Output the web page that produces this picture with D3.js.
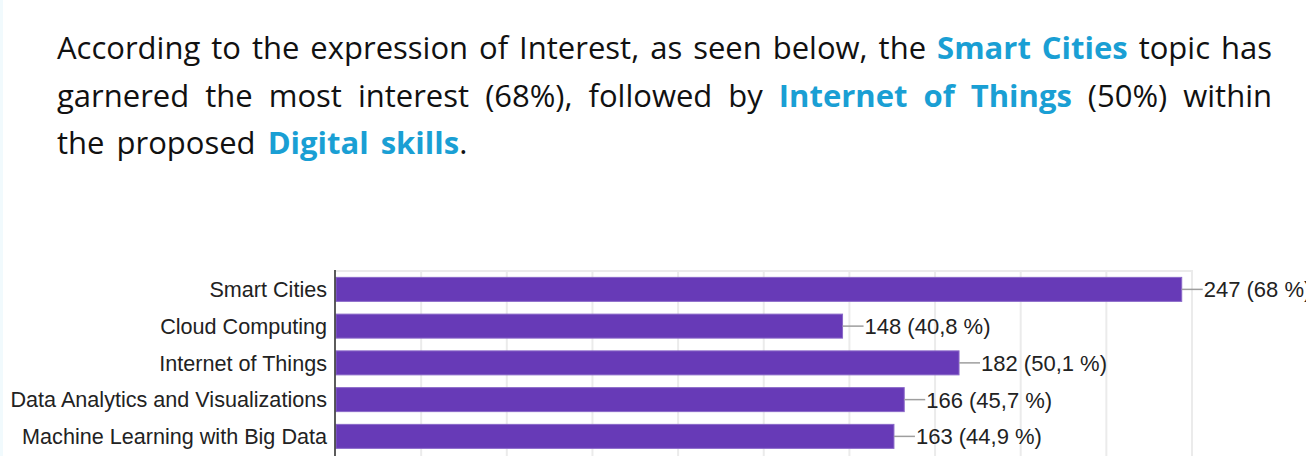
<!DOCTYPE html>
<html>

<head>
    <meta charset="utf-8">
    <style>
        html, body { margin: 0; padding: 0; background: #fff; }
        body { width: 1306px; height: 456px; overflow: hidden; position: relative; }
        #edge { position: absolute; left: 0; top: 0; width: 3px; height: 456px; background: #f1fafd; }
        #intro {
            position: absolute; left: 57px; top: 24px; width: 1215px;
            font-family: "Open Sans", sans-serif; font-size: 31px; line-height: 47.5px; color: #111;
        }
        #intro .line { white-space: nowrap; }
        #intro .just { text-align: justify; text-align-last: justify; white-space: normal; word-spacing: 0; }
        #intro .last { word-spacing: 4px; }
        #intro b { color: #1a9fd4; font-weight: 700; }
        #chart { position: absolute; left: 0; top: 0; }
    </style>
</head>

<body>
    <script src="https://d3js.org/d3.v7.min.js"></script>
    <div id="edge"></div>
    <div id="intro">
        <div class="line just">According to the expression of Interest, as seen below, the <b>Smart Cities</b> topic has</div>
        <div class="line just">garnered the most interest (68%), followed by <b>Internet of Things</b> (50%) within</div>
        <div class="line last">the proposed <b>Digital skills</b>.</div>
    </div>
    <svg id="chart"></svg>
    <script>
        const width = 1306
        const height = 456

        const categories = ["Smart Cities", "Cloud Computing", "Internet of Things", "Data Analytics and Visualizations", "Machine Learning with Big Data"]
        const counts = [247, 148, 182, 166, 163]
        const percents = [68, 40.8, 50.1, 45.7, 44.9]
        const gridTicks = [0, 25, 50, 75, 100, 125, 150, 175, 200, 225, 250]

        const svg = d3.select("#chart").attr("width", width).attr("height", height)

        const x = d3.scaleLinear().domain([0, 250]).range([335.5, 1192])
        const y = d3.scaleBand()
            .domain(categories)
            .range([271, 271 + 5 * 36.75])
            .paddingInner(0.347)
            .paddingOuter(0.1735)

        const bottom = 470

        // gridlines
        svg.append("g")
            .selectAll("line")
            .data(gridTicks.slice(1))
            .enter()
            .append("line")
            .attr("x1", d => x(d)).attr("x2", d => x(d))
            .attr("y1", 271).attr("y2", bottom)
            .attr("stroke", "#ebebeb").attr("stroke-width", 2)

        svg.append("line")
            .attr("x1", x(0)).attr("x2", x(250) + 1)
            .attr("y1", 271).attr("y2", 271)
            .attr("stroke", "#ebebeb").attr("stroke-width", 2)

        // bars
        svg.append("g")
            .selectAll("rect")
            .data(categories)
            .enter()
            .append("rect")
            .attr("x", x(0) + 0.5)
            .attr("y", d => y(d))
            .attr("width", (d, i) => x(counts[i]) - x(0) - 0.5)
            .attr("height", y.bandwidth())
            .attr("fill", "#673ab7")
            .attr("stroke", "#8a68c8")
            .attr("stroke-width", 1)

        // axis line
        svg.append("line")
            .attr("x1", 335).attr("x2", 335)
            .attr("y1", 270).attr("y2", bottom)
            .attr("stroke", "#333").attr("stroke-width", 1.6)

        // category labels
        svg.append("g")
            .selectAll("text")
            .data(categories)
            .enter()
            .append("text")
            .attr("x", 327)
            .attr("y", d => y(d) + y.bandwidth() / 2)
            .attr("dy", "0.36em")
            .attr("text-anchor", "end")
            .attr("font-family", "'Liberation Sans', Arial, sans-serif")
            .attr("font-size", 21.6)
            .attr("fill", "#222")
            .text(d => d)

        // value annotations
        const ann = svg.append("g")
            .selectAll("g")
            .data(categories)
            .enter()
            .append("g")

        ann.append("line")
            .attr("x1", (d, i) => x(counts[i]))
            .attr("x2", (d, i) => x(counts[i]) + 21)
            .attr("y1", d => y(d) + y.bandwidth() / 2)
            .attr("y2", d => y(d) + y.bandwidth() / 2)
            .attr("stroke", "#9e9e9e").attr("stroke-width", 1.5)

        ann.append("text")
            .attr("x", (d, i) => x(counts[i]) + 22)
            .attr("y", d => y(d) + y.bandwidth() / 2)
            .attr("dy", "0.36em")
            .attr("font-family", "'Liberation Sans', Arial, sans-serif")
            .attr("font-size", 22)
            .attr("fill", "#222")
            .text((d, i) => counts[i] + " (" + String(percents[i]).replace(".", ",") + " %)")
    </script>
</body>

</html>
